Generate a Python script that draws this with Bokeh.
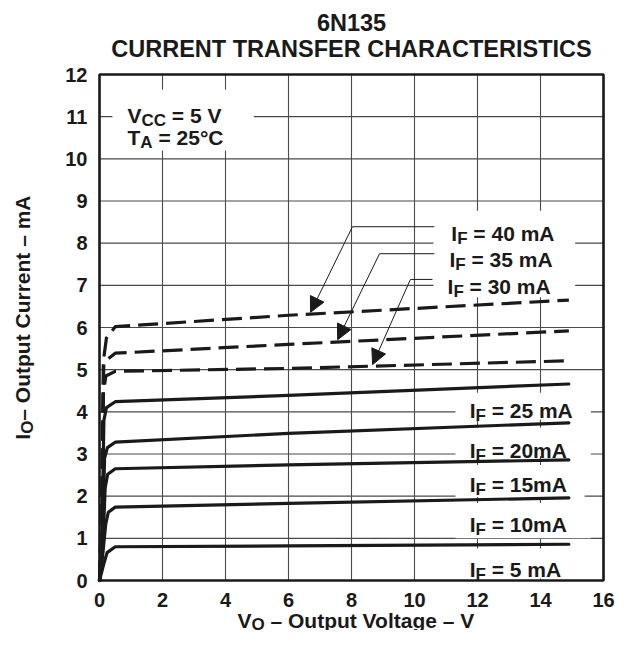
import math
from bokeh.plotting import figure
from bokeh.models import Range1d, FixedTicker, Label, Arrow, NormalHead
from bokeh.embed import file_html
from bokeh.resources import INLINE

# ---------------- data ----------------
X_TICKS = [0, 2, 4, 6, 8, 10, 12, 14, 16]
Y_TICKS = list(range(0, 13))

V_5 = [0, 0.12, 0.24, 0.5, 6, 14.9]
I_5 = [0, 0.35, 0.66, 0.80, 0.82, 0.86]
V_10 = [0, 0.1, 0.2, 0.28, 0.5, 6, 14.9]
I_10 = [0, 0.6, 1.35, 1.62, 1.74, 1.83, 1.96]
V_15 = [0, 0.1, 0.18, 0.26, 0.5, 6, 14.9]
I_15 = [0, 0.7, 2.2, 2.52, 2.65, 2.74, 2.86]
V_20 = [0, 0.1, 0.16, 0.25, 0.5, 6, 14.9]
I_20 = [0, 1.0, 2.9, 3.15, 3.28, 3.49, 3.74]
V_25 = [0, 0.08, 0.14, 0.22, 0.5, 6, 14.9]
I_25 = [0, 1.2, 3.8, 4.1, 4.24, 4.39, 4.66]
V_30 = [0, 0.08, 0.12, 0.2, 0.5, 6, 14.9]
I_30 = [0, 1.5, 4.4, 4.85, 4.96, 5.03, 5.21]
V_35 = [0, 0.08, 0.12, 0.18, 0.5, 6, 14.9]
I_35 = [0, 2.0, 5.1, 5.2, 5.39, 5.60, 5.92]
V_40 = [0, 0.08, 0.14, 0.22, 0.5, 6, 14.9]
I_40 = [0, 2.5, 5.3, 5.75, 6.02, 6.29, 6.65]

SOLID = [(V_5, I_5), (V_10, I_10), (V_15, I_15), (V_20, I_20), (V_25, I_25)]
DASHED = [(V_30, I_30), (V_35, I_35), (V_40, I_40)]

SERIES_LABELS = ["40 mA", "35 mA", "30 mA", "25 mA", "20mA", "15mA", "10mA", "5 mA"]

X_MIN, X_MAX = 0, 16
Y_MIN, Y_MAX = 0, 12

# ---------------- styling / layout ----------------
FONT = "Liberation Sans"
INK = "#1a1a1a"
MAIN = "21px"
SUB = "17px"
W_I = 5.8      # approx. advance widths in px
W_V = 14.0
W_T = 12.8
W_SUBF = 10.4
W_SUBCC = 24.5
W_SUBA = 12.3
W_SUBO = 13.2
W_SP = 5.8

W, H = 621, 630
BOX_PX = (99, 603, 74, 580)          # chart box in canvas pixels: left, right, top, bottom
sx = (BOX_PX[1] - BOX_PX[0]) / (X_MAX - X_MIN)
sy = (BOX_PX[3] - BOX_PX[2]) / (Y_MAX - Y_MIN)
xr = Range1d(X_MIN - BOX_PX[0] / sx, X_MIN + (W - BOX_PX[0]) / sx)
yr = Range1d(Y_MIN - (H - BOX_PX[3]) / sy, Y_MAX + BOX_PX[2] / sy)

p = figure(width=W, height=H, output_backend="svg", toolbar_location=None,
           title=None, x_range=xr, y_range=yr, min_border=0)
p.background_fill_color = "white"
p.border_fill_color = "white"
p.outline_line_color = None
p.xgrid.visible = False
p.ygrid.visible = False

for ax, ticks, bnd in ((p.xaxis, X_TICKS, (X_MIN, X_MAX)), (p.yaxis, Y_TICKS, (Y_MIN, Y_MAX))):
    ax.ticker = FixedTicker(ticks=ticks)
    ax.fixed_location = 0
    ax.bounds = bnd
    ax.axis_line_color = None
    ax.major_tick_line_color = None
    ax.minor_tick_line_color = None
    ax.major_label_text_font = FONT
    ax.major_label_text_font_style = "bold"
    ax.major_label_text_font_size = "20px"
    ax.major_label_text_color = INK
p.xaxis.major_label_standoff = 6
p.yaxis.major_label_standoff = 6

# grid (from the tick arrays)
p.segment(x0=X_TICKS, y0=[Y_MIN] * len(X_TICKS), x1=X_TICKS, y1=[Y_MAX] * len(X_TICKS),
          line_color="#4a4a4a", line_width=1.1)
p.segment(x0=[X_MIN] * len(Y_TICKS), y0=Y_TICKS, x1=[X_MAX] * len(Y_TICKS), y1=Y_TICKS,
          line_color="#4a4a4a", line_width=1.1)

# white boxes behind the labels (cover the grid)
BOX_L = [0.41, 10.6, 11.3, 11.3, 11.3, 11.3, 11.3]
BOX_R = [4.9, 15.1, 15.6, 15.6, 15.4, 15.6, 15.6]
BOX_B = [10.2, 6.72, 3.82, 2.95, 1.98, 1.0, 0.05]
BOX_T = [11.64, 8.77, 4.45, 3.62, 2.74, 1.84, 0.76]
p.quad(left=BOX_L, right=BOX_R, bottom=BOX_B, top=BOX_T,
       fill_color="white", line_color=None)

# chart frame
p.quad(left=[X_MIN], right=[X_MAX], bottom=[Y_MIN], top=[Y_MAX],
       fill_color=None, line_color=INK, line_width=2.6)

for v, i in SOLID:
    p.line(v, i, line_color=INK, line_width=3.2, line_join="round", line_cap="round")
for v, i in DASHED:
    p.line(v, i, line_color=INK, line_width=3.2, line_dash="20 8", line_join="round")


def lab(x, y, text, size=MAIN, xo=0, yo=0, align="left", angle=0.0):
    p.add_layout(Label(x=x, y=y, text=text, x_offset=xo, y_offset=yo,
                       text_font=FONT, text_font_style="bold",
                       text_font_size=size, text_color=INK,
                       text_align=align, text_baseline="alphabetic",
                       angle=angle))


def sub_label(x, y, head, w_head, sub, w_sub, rest, drop=5):
    lab(x, y, head)
    lab(x, y, sub, size=SUB, xo=w_head, yo=-drop)
    lab(x, y, rest, xo=w_head + w_sub + W_SP)


# series labels
LAB_X = [11.17, 11.11, 11.05, 11.75, 11.75, 11.75, 11.75, 11.75]
LAB_Y = [8.23, 7.61, 6.97, 4.03, 3.08, 2.28, 1.33, 0.26]
for x, y, t in zip(LAB_X, LAB_Y, SERIES_LABELS):
    sub_label(x, y, "I", W_I, "F", W_SUBF, "= " + t)

# conditions
sub_label(0.89, 11.03, "V", W_V, "CC", W_SUBCC, "= 5 V")
sub_label(0.89, 10.50, "T", W_T, "A", W_SUBA, "= 25°C")

# leader lines + arrows
LEAD_X0 = [8.03, 8.89, 9.87]
LEAD_X1 = [10.63, 10.63, 10.57]
LEAD_Y = [8.39, 7.75, 7.14]
TIP_X = [6.70, 7.56, 8.67]
TIP_Y = [6.36, 5.71, 5.12]
p.segment(x0=LEAD_X0, y0=LEAD_Y, x1=LEAD_X1, y1=LEAD_Y, line_color=INK, line_width=1)
for x0, y0, xt, yt in zip(LEAD_X0, LEAD_Y, TIP_X, TIP_Y):
    p.add_layout(Arrow(x_start=x0, y_start=y0, x_end=xt, y_end=yt,
                       line_color=INK, line_width=1,
                       end=NormalHead(size=15, fill_color=INK, line_color=INK)))

# title
lab(8.0, 13.23, "6N135", size="23.5px", align="center")
lab(8.0, 12.60, "CURRENT TRANSFER CHARACTERISTICS", size="23.5px", align="center")

# x axis title
sub_label(4.38, -0.95, "V", W_V, "O", W_SUBO, "– Output Voltage – V", drop=4)

# y axis title (rotated)
ang = math.pi / 2
lab(-2.43, 3.34, "I", angle=ang)
lab(-2.43, 3.34, "O", size=SUB, xo=5, yo=W_I, angle=ang)
lab(-2.43, 3.34, "– Output Current – mA", yo=W_I + W_SUBO, angle=ang)

open("out.html", "w").write(file_html(p, INLINE))
